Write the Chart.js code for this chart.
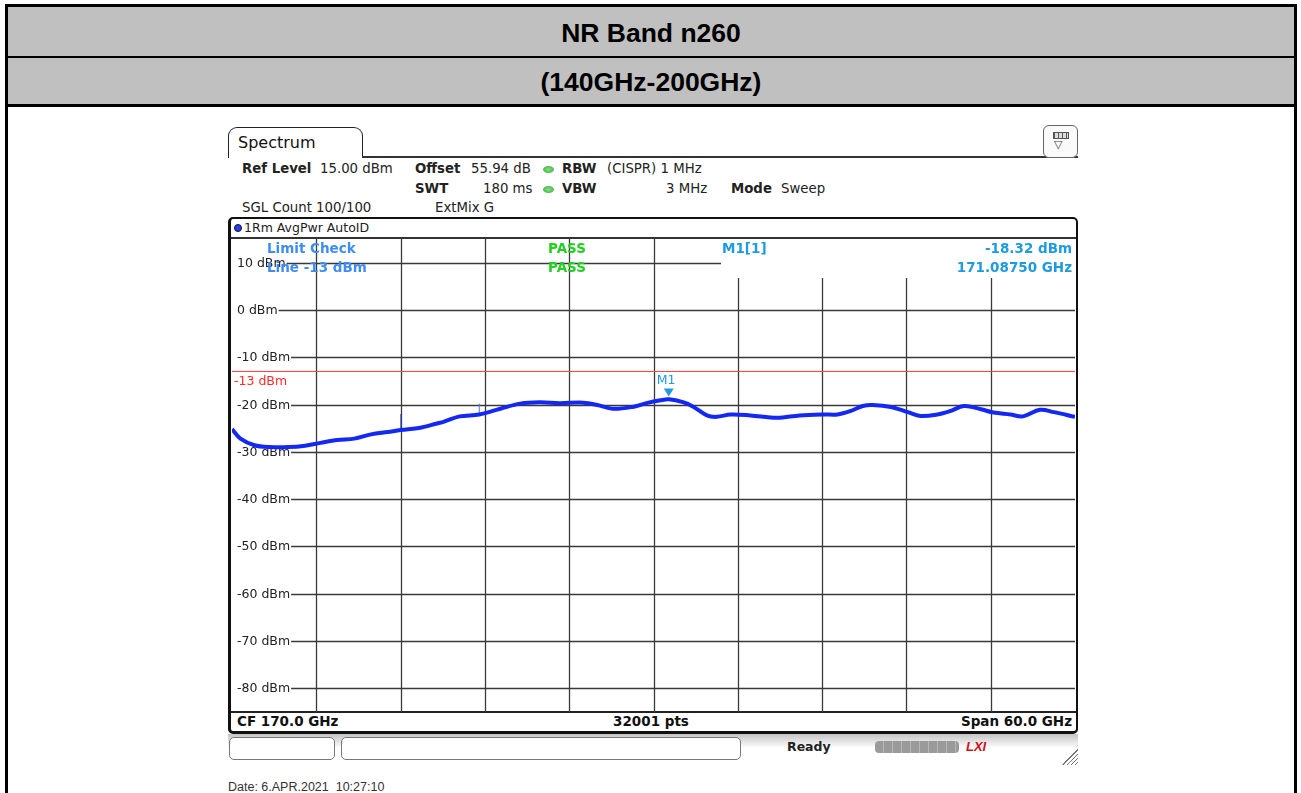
<!DOCTYPE html>
<html>
<head>
<meta charset="utf-8">
<script src="https://cdn.jsdelivr.net/npm/chart.js@4.4.1/dist/chart.umd.min.js"></script>
<style>
html, body { margin: 0; padding: 0; background: #fff; width: 1301px; height: 793px; overflow: hidden; }
body { position: relative; font-family: "DejaVu Sans", sans-serif; color: #222; }
.abs { position: absolute; white-space: nowrap; }
.b { font-weight: bold; }
.info { font-size: 13.3px; line-height: 16px; }
.dot { position: absolute; width: 11px; height: 7px; border-radius: 50%; background: radial-gradient(#8d8, #3a3); }
.title { font-family: "Liberation Sans", Arial, sans-serif; font-weight: bold; font-size: 26.5px; color: #000; left: 8px; width: 1286px; text-align: center; }
</style>
</head>
<body>

<!-- outer table -->
<div class="abs" style="left:5px;top:4px;width:1292px;height:900px;border:3px solid #000;box-sizing:border-box;"></div>
<div class="abs" style="left:8px;top:7px;width:1286px;height:49px;background:#c0c0c0;"></div>
<div class="abs" style="left:8px;top:56px;width:1286px;height:2px;background:#000;"></div>
<div class="abs" style="left:8px;top:58px;width:1286px;height:46px;background:#c0c0c0;"></div>
<div class="abs" style="left:8px;top:104px;width:1286px;height:3px;background:#000;"></div>
<div class="abs title" style="top:17px;line-height:32px;">NR Band n260</div>
<div class="abs title" style="top:66px;line-height:32px;">(140GHz-200GHz)</div>

<!-- analyzer header -->
<div class="abs" style="left:228px;top:127px;width:135px;height:31px;border:1.5px solid #222;border-bottom:none;border-radius:9px 9px 0 0;box-sizing:border-box;"></div>
<div class="abs" style="left:238px;top:133px;font-size:16px;line-height:20px;color:#111;">Spectrum</div>
<div class="abs" style="left:362px;top:156px;width:716px;height:1.5px;background:#333;"></div>
<div class="abs" style="left:1043px;top:125px;width:35px;height:33px;border:1.5px solid #666;border-radius:6px;box-sizing:border-box;background:#fafafa;">
  <div class="abs" style="left:9px;top:6px;width:14px;height:5px;border:1px solid #555;background:repeating-linear-gradient(90deg,#555 0 1px,#ddd 1px 4px);"></div>
  <div class="abs" style="left:10px;top:13px;font-size:11px;line-height:12px;color:#444;">&#9661;</div>
</div>

<div class="abs info b" style="left:242px;top:161px;">Ref Level</div>
<div class="abs info" style="left:320px;top:161px;">15.00 dBm</div>
<div class="abs info b" style="left:415px;top:161px;">Offset</div>
<div class="abs info" style="left:471px;top:161px;">55.94 dB</div>
<div class="dot" style="left:543px;top:166px;"></div>
<div class="abs info b" style="left:562px;top:161px;">RBW</div>
<div class="abs info" style="left:607px;top:161px;">(CISPR) 1 MHz</div>

<div class="abs info b" style="left:415px;top:181px;">SWT</div>
<div class="abs info" style="left:483px;top:181px;">180 ms</div>
<div class="dot" style="left:543px;top:186px;"></div>
<div class="abs info b" style="left:562px;top:181px;">VBW</div>
<div class="abs info" style="left:666px;top:181px;">3 MHz</div>
<div class="abs info b" style="left:731px;top:181px;">Mode</div>
<div class="abs info" style="left:781px;top:181px;">Sweep</div>

<div class="abs info" style="left:242px;top:200px;">SGL Count 100/100</div>
<div class="abs info" style="left:435px;top:200px;">ExtMix G</div>

<!-- plot frame -->
<div class="abs" style="left:228px;top:217px;width:850px;height:517px;border:2px solid #111;border-left-width:3px;border-bottom-width:3px;border-radius:5px;box-sizing:border-box;"></div>
<div class="abs" style="left:231px;top:237px;width:845px;height:1.5px;background:#333;"></div>
<div class="abs" style="left:234px;top:224px;width:8px;height:8px;border-radius:50%;background:#2242e8;border:1px solid #113;box-sizing:border-box;"></div>
<div class="abs" style="left:244px;top:220px;font-size:12.5px;line-height:16px;">1Rm AvgPwr AutoID</div>
<div class="abs" style="left:231px;top:711px;width:845px;height:1.5px;background:#222;"></div>
<div class="abs b" style="left:237px;top:713px;font-size:13.5px;line-height:17px;color:#111;">CF 170.0 GHz</div>
<div class="abs b" style="left:551px;top:713px;width:200px;text-align:center;font-size:13.5px;line-height:17px;color:#111;">32001 pts</div>
<div class="abs b" style="left:872px;top:713px;width:200px;text-align:right;font-size:13.5px;line-height:17px;color:#111;">Span 60.0 GHz</div>

<!-- status bar -->
<div class="abs" style="left:228px;top:734px;width:850px;height:31px;background:linear-gradient(#c4c4c4,#fff 45%,#fff);"></div>
<div class="abs" style="left:229px;top:737px;width:106px;height:23px;border:1px solid #777;border-radius:5px;background:#fff;box-sizing:border-box;"></div>
<div class="abs" style="left:341px;top:737px;width:400px;height:23px;border:1px solid #777;border-radius:5px;background:#fff;box-sizing:border-box;"></div>
<div class="abs b" style="left:787px;top:739px;font-size:12.5px;line-height:16px;color:#222;">Ready</div>
<div class="abs" style="left:875px;top:741px;width:84px;height:12px;border-radius:4px;background:repeating-linear-gradient(90deg,#9a9a9a 0 8px,#b8b8b8 8px 9px);"></div>
<div class="abs" style="left:966px;top:740px;font-family:'Liberation Sans';font-style:italic;font-weight:bold;font-size:13px;line-height:14px;color:#d0101a;">LXI</div>
<div class="abs" style="left:1062px;top:745px;width:16px;height:20px;background:repeating-linear-gradient(135deg,#fff 0 2px,#777 2px 3px);clip-path:polygon(100% 0,100% 100%,0 100%);"></div>

<div class="abs" style="left:228px;top:779px;font-family:'Liberation Sans',Arial,sans-serif;font-size:12.5px;line-height:16px;color:#333;">Date: 6.APR.2021&nbsp;&nbsp;10:27:10</div>

<!-- plot -->
<div class="abs" style="left:232px;top:239px;width:843px;height:473px;">
  <canvas id="spec"></canvas>
</div>

<script>
/* ---------- DATA ---------- */
const freqGHz = [
    140.0, 140.6, 141.6, 142.7, 144.0, 145.2, 146.3, 147.5, 148.7, 149.9,
    151.1, 152.0, 153.4, 154.6, 155.1, 156.2, 157.6, 159.1, 160.5, 161.9,
    163.3, 165.0, 166.0, 167.1, 168.5, 169.5, 170.5, 171.1, 172.1, 172.8,
    173.8, 174.5, 175.5, 176.9, 178.8, 180.4, 182.1, 183.1, 184.0, 184.9,
    185.6, 186.9, 188.1, 189.0, 190.2, 191.1, 192.1, 193.3, 194.2, 195.4,
    196.3, 197.5, 198.5, 200.0
];
const levelDbm = [
    -25.2, -27.2, -28.6, -29.0, -29.0, -28.7, -28.1, -27.5, -27.2, -26.3,
    -25.8, -25.4, -24.9, -24.0, -23.6, -22.5, -22.1, -20.9, -19.8, -19.5,
    -19.7, -19.6, -20.1, -20.9, -20.5, -19.7, -19.1, -18.9, -19.5, -20.4,
    -22.3, -22.6, -22.1, -22.3, -22.8, -22.3, -22.1, -22.1, -21.4, -20.3,
    -20.1, -20.5, -21.6, -22.4, -22.1, -21.4, -20.3, -21.0, -21.7, -22.1,
    -22.5, -21.1, -21.6, -22.6
];
// single-sample spikes on the trace
const spikeFreq = [152.0, 157.6];
const spikeBase = [-25.4, -22.1];
const spikeTop = [-22.0, -19.8];

const yTicks = [10, 0, -10, -20, -30, -40, -50, -60, -70, -80];
const yTickLabels = yTicks.map(v => v + " dBm");
const xGridGHz = [146, 152, 158, 164, 170, 176, 182, 188, 194];

const limitDbm = -13;
const markerFreq = 171.0875;
const markerDbm = -18.32;

/* ---------- HELPERS ---------- */
const UI_FONT = '"DejaVu Sans", sans-serif';

function spikeData() {
    const pts = [];
    spikeFreq.forEach((f, i) => {
        pts.push({ x: f, y: spikeBase[i] });
        pts.push({ x: f, y: spikeTop[i] });
        pts.push({ x: f + 0.01, y: null });
    });
    return pts;
}

/* ---------- GRID + LABELS ---------- */
const gridPlugin = {
    id: "saGrid",
    beforeDatasetsDraw(chart) {
        const { ctx, chartArea: a, scales: { x, y } } = chart;
        ctx.save();
        ctx.strokeStyle = "#3a3a3a";
        ctx.lineWidth = 1.3;
        ctx.font = "12.5px " + UI_FONT;
        ctx.textBaseline = "middle";

        // vertical lines (right part starts below the marker readout)
        xGridGHz.forEach(f => {
            const px = Math.round(x.getPixelForValue(f)) + 0.5;
            const top = px > 489 ? a.top + 39 : a.top;
            ctx.beginPath();
            ctx.moveTo(px, top);
            ctx.lineTo(px, a.bottom);
            ctx.stroke();
        });

        // horizontal lines start after their label
        yTicks.forEach((v, i) => {
            const py = Math.round(y.getPixelForValue(v)) + 0.5;
            const lbl = yTickLabels[i];
            const w = ctx.measureText(lbl).width;
            ctx.fillStyle = "#222";
            ctx.fillText(lbl, a.left + 5, py);
            ctx.beginPath();
            ctx.moveTo(a.left + 6 + w, py);
            ctx.lineTo(v === 10 ? a.left + 489 : a.right, py);
            ctx.stroke();
        });

        // limit label
        ctx.fillStyle = "#ff2a2a";
        ctx.fillText(limitDbm + " dBm", a.left + 2, y.getPixelForValue(limitDbm) + 10);
        ctx.restore();
    },
    afterDatasetsDraw(chart) {
        const { ctx, chartArea: a, scales: { x, y } } = chart;
        ctx.save();
        ctx.textBaseline = "middle";

        // marker triangle + label
        const mx = x.getPixelForValue(markerFreq);
        const my = y.getPixelForValue(markerDbm);
        ctx.fillStyle = "#1e9be0";
        ctx.beginPath();
        ctx.moveTo(mx - 5, my - 8);
        ctx.lineTo(mx + 5, my - 8);
        ctx.lineTo(mx, my);
        ctx.closePath();
        ctx.fill();
        ctx.font = "12.5px " + UI_FONT;
        ctx.fillText("M1", mx - 12, my - 16);

        // limit check readout
        ctx.font = "bold 13.5px " + UI_FONT;
        ctx.fillStyle = "#3f8cf2";
        ctx.fillText("Limit Check", a.left + 35, a.top + 10);
        ctx.fillText("Line " + limitDbm + " dBm", a.left + 35, a.top + 29);
        ctx.fillStyle = "#1ed21e";
        ctx.fillText("PASS", a.left + 316, a.top + 10);
        ctx.fillText("PASS", a.left + 316, a.top + 29);

        // marker readout
        ctx.fillStyle = "#1e9be0";
        ctx.fillText("M1[1]", a.left + 490, a.top + 10);
        ctx.textAlign = "right";
        ctx.fillText(markerDbm.toFixed(2) + " dBm", a.left + 840, a.top + 10);
        ctx.fillText(markerFreq.toFixed(5) + " GHz", a.left + 840, a.top + 29);
        ctx.restore();
    }
};

/* ---------- CHART ---------- */
new Chart(document.getElementById("spec"), {
    type: "line",
    data: {
        datasets: [
            {
                label: "1Rm AvgPwr",
                data: freqGHz.map((f, i) => ({ x: f, y: levelDbm[i] })),
                borderColor: "#1428f4",
                borderWidth: 4,
                pointRadius: 0,
                tension: 0.35,
                order: 1
            },
            {
                label: "spikes",
                data: spikeData(),
                borderColor: "#4a78f2",
                borderWidth: 1,
                pointRadius: 0,
                spanGaps: false,
                order: 2
            },
            {
                label: "Limit",
                data: [{ x: 140, y: limitDbm }, { x: 200, y: limitDbm }],
                borderColor: "#ff3a3a",
                borderWidth: 1,
                pointRadius: 0,
                order: 3
            }
        ]
    },
    options: {
        responsive: true,
        maintainAspectRatio: false,
        animation: false,
        events: [],
        layout: { padding: 0 },
        plugins: { legend: { display: false }, tooltip: { enabled: false } },
        scales: {
            x: { type: "linear", min: 140, max: 200, display: false },
            y: { type: "linear", min: -85, max: 15, display: false }
        }
    },
    plugins: [gridPlugin]
});
</script>
</body>
</html>
